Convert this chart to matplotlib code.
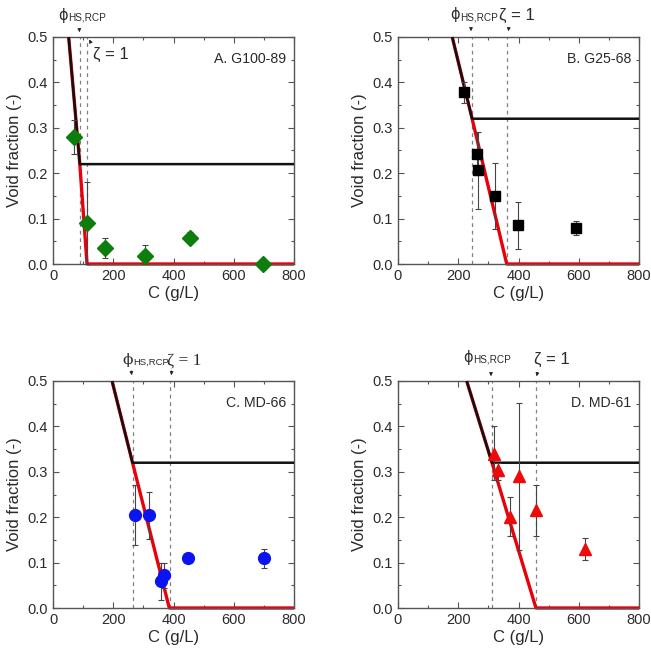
import matplotlib
matplotlib.use("Agg")
import matplotlib.pyplot as plt
from matplotlib.patches import FancyArrowPatch
from matplotlib.ticker import MultipleLocator

plt.rcParams['font.family'] = ['Liberation Sans', 'DejaVu Sans']

# ---------------- data ----------------
panel_labels = ["A. G100-89", "B. G25-68", "C. MD-66", "D. MD-61"]

A_x = [69, 113, 173, 307, 454, 697]
A_y = [0.280, 0.090, 0.035, 0.017, 0.058, 0.0]
A_lo = [0.242, 0.0, 0.013, 0.0, 0.047, 0.0]
A_hi = [0.317, 0.181, 0.058, 0.042, 0.070, 0.0]
A_black_x = [52, 89, 800]
A_black_y = [0.5, 0.22, 0.22]
A_red_x = [52, 89, 113, 800]
A_red_y = [0.5, 0.22, 0.0, 0.0]
A_phi, A_zeta = 89, 114

B_x = [219, 261, 267, 322, 398, 590]
B_y = [0.379, 0.243, 0.206, 0.149, 0.085, 0.079]
B_lo = [0.355, 0.195, 0.122, 0.077, 0.033, 0.064]
B_hi = [0.400, 0.290, 0.290, 0.222, 0.137, 0.095]
B_black_x = [180, 246, 800]
B_black_y = [0.5, 0.32, 0.32]
B_red_x = [180, 246, 361, 800]
B_red_y = [0.5, 0.32, 0.0, 0.0]
B_phi, B_zeta = 246, 361

C_x = [273, 318, 360, 367, 448, 699]
C_y = [0.205, 0.205, 0.060, 0.073, 0.110, 0.110]
C_lo = [0.138, 0.153, 0.018, 0.045, 0.110, 0.088]
C_hi = [0.272, 0.256, 0.100, 0.100, 0.110, 0.131]
C_black_x = [196, 264, 800]
C_black_y = [0.5, 0.32, 0.32]
C_red_x = [196, 264, 386, 800]
C_red_y = [0.5, 0.32, 0.0, 0.0]
C_phi, C_zeta = 264, 388

D_x = [319, 333, 372, 402, 457, 621]
D_y = [0.340, 0.305, 0.200, 0.290, 0.215, 0.130]
D_lo = [0.283, 0.283, 0.158, 0.128, 0.158, 0.106]
D_hi = [0.400, 0.320, 0.245, 0.452, 0.272, 0.155]
D_black_x = [228, 312, 800]
D_black_y = [0.5, 0.32, 0.32]
D_red_x = [228, 312, 458, 800]
D_red_y = [0.5, 0.32, 0.0, 0.0]
D_phi, D_zeta = 312, 458

x_ticks = [0, 200, 400, 600, 800]
y_ticks = [0.0, 0.1, 0.2, 0.3, 0.4, 0.5]

# ---------------- figure ----------------
W = 651
fig = plt.figure(figsize=(6.51, 6.51), dpi=100)

def fx(px):
    return px / W

def fy(py):
    return 1 - py / W

panels = [
    dict(box=(53, 37, 294, 264), x=A_x, y=A_y, lo=A_lo, hi=A_hi,
         bx=A_black_x, by=A_black_y, rx=A_red_x, ry=A_red_y, phi=A_phi, zeta=A_zeta,
         marker='D', color='#0d7d0d', ms=8.5,
         phi_txt=(58, 20), sub_x=68, zeta_txt=(93, 59), serif=False,
         phi_arrow=((79, 27), (80, 35)), zeta_arrow=((92, 45), (88, 37))),
    dict(box=(398, 37, 639, 264), x=B_x, y=B_y, lo=B_lo, hi=B_hi,
         bx=B_black_x, by=B_black_y, rx=B_red_x, ry=B_red_y, phi=B_phi, zeta=B_zeta,
         marker='s', color='black', ms=7.5,
         phi_txt=(450, 19), sub_x=460, zeta_txt=(499, 20), serif=False,
         phi_arrow=((471, 26), (471, 34)), zeta_arrow=((509, 26), (508, 34))),
    dict(box=(53, 381, 294, 608), x=C_x, y=C_y, lo=C_lo, hi=C_hi,
         bx=C_black_x, by=C_black_y, rx=C_red_x, ry=C_red_y, phi=C_phi, zeta=C_zeta,
         marker='o', color='#0a14f0', ms=8.5,
         phi_txt=(122, 364), sub_x=133, zeta_txt=(167, 364), serif=True,
         phi_arrow=((131, 368), (132, 378)), zeta_arrow=((172, 368), (171, 378))),
    dict(box=(398, 381, 639, 608), x=D_x, y=D_y, lo=D_lo, hi=D_hi,
         bx=D_black_x, by=D_black_y, rx=D_red_x, ry=D_red_y, phi=D_phi, zeta=D_zeta,
         marker='^', color='#ee0a0a', ms=9,
         phi_txt=(463, 362), sub_x=473, zeta_txt=(534, 364), serif=False,
         phi_arrow=((491, 370), (491, 379)), zeta_arrow=((538, 370), (536, 379))),
]

txt_col = '#2a2a2a'
for p, lab in zip(panels, panel_labels):
    l, t, r, b = p['box']
    ax = fig.add_axes([fx(l), fy(b), fx(r - l), (b - t) / W])
    ax.set_xlim(0, 800)
    ax.set_ylim(0, 0.5)
    ax.set_xticks(x_ticks)
    ax.set_yticks(y_ticks)
    ax.set_xticklabels([str(v) for v in x_ticks])
    ax.set_yticklabels([f"{v:.1f}" for v in y_ticks])
    ax.xaxis.set_minor_locator(MultipleLocator(100))
    ax.yaxis.set_minor_locator(MultipleLocator(0.05))
    ax.tick_params(which='both', direction='in', top=True, right=True,
                   color='#555555', labelcolor=txt_col, labelsize=10.5)
    ax.tick_params(which='major', length=4, width=0.8)
    ax.tick_params(which='minor', length=2.5, width=0.8)
    for s in ax.spines.values():
        s.set_color('#555555')
        s.set_linewidth(1.0)
    ax.set_xlabel('C (g/L)', fontsize=12, color=txt_col, labelpad=2)
    ax.set_ylabel('Void fraction (-)', fontsize=12, color=txt_col, labelpad=4)

    ax.axvline(p['phi'], color='#808080', lw=0.9, ls=(0, (3, 3)), zorder=1)
    ax.axvline(p['zeta'], color='#808080', lw=0.9, ls=(0, (3, 3)), zorder=1)

    ax.plot(p['rx'], p['ry'], color='#e8000b', lw=2.4, zorder=2, clip_on=False,
            solid_capstyle='butt')
    ax.plot(p['bx'], p['by'], color='#111111', lw=1.8, zorder=3,
            solid_capstyle='butt')

    yerr = [[yy - lo for yy, lo in zip(p['y'], p['lo'])],
            [hi - yy for yy, hi in zip(p['y'], p['hi'])]]
    ax.errorbar(p['x'], p['y'], yerr=yerr, fmt='none', ecolor='#444444',
                elinewidth=0.8, capsize=2.2, capthick=0.8, zorder=4)
    ax.plot(p['x'], p['y'], ls='none', marker=p['marker'], color=p['color'],
            ms=p['ms'], mec=p['color'], zorder=5, clip_on=False)

    ax.text(0.967, 0.903, lab, transform=ax.transAxes, ha='right', va='center',
            fontsize=10.2, color=txt_col)

    # annotations
    if p['serif']:
        fam = ['Liberation Serif', 'DejaVu Serif']
        fig.text(fx(p['phi_txt'][0]), fy(p['phi_txt'][1]), '\u03d5',
                 family=['DejaVu Serif'], fontsize=11, color=txt_col,
                 ha='left', va='baseline')
        fig.text(fx(p['sub_x']), fy(p['phi_txt'][1] + 1), 'HS,RCP',
                 fontsize=6.8, color=txt_col, ha='left', va='baseline')
        fig.text(fx(p['zeta_txt'][0]), fy(p['zeta_txt'][1]), '\u03b6 = 1',
                 family=fam, fontsize=12.5, color=txt_col, ha='left', va='baseline')
    else:
        fig.text(fx(p['phi_txt'][0]), fy(p['phi_txt'][1]), '\u03d5',
                 family=['DejaVu Sans'], fontsize=10.5, color=txt_col,
                 ha='left', va='baseline')
        fig.text(fx(p['sub_x']), fy(p['phi_txt'][1] + 1), 'HS,RCP',
                 fontsize=7.2, color=txt_col, ha='left', va='baseline')
        fig.text(fx(p['zeta_txt'][0]), fy(p['zeta_txt'][1]), '\u03b6 = 1',
                 fontsize=12, color=txt_col, ha='left', va='baseline')
    for (s0, s1) in (p['phi_arrow'], p['zeta_arrow']):
        fig.add_artist(FancyArrowPatch(
            (fx(s0[0]), fy(s0[1])), (fx(s1[0]), fy(s1[1])),
            transform=fig.transFigure, arrowstyle='-|>', mutation_scale=5,
            lw=0.6, color='#222222'))

fig.savefig('out.png', dpi=100, facecolor='white')
